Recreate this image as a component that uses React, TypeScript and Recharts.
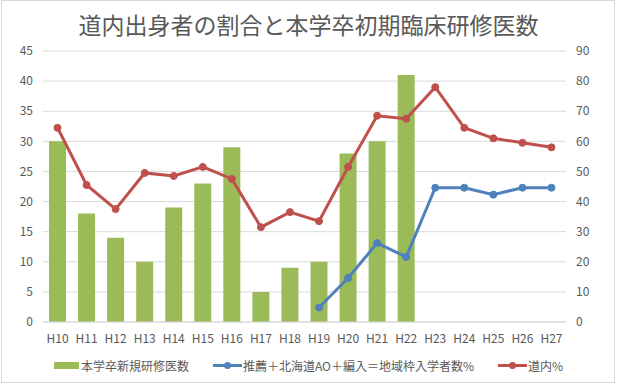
import React from 'react';
import { ComposedChart, Bar, Line, XAxis, YAxis, CartesianGrid, Legend } from 'recharts';

const categories = ['H10', 'H11', 'H12', 'H13', 'H14', 'H15', 'H16', 'H17', 'H18', 'H19', 'H20', 'H21', 'H22', 'H23', 'H24', 'H25', 'H26', 'H27'];
const residents = [30, 18, 14, 10, 19, 23, 29, 5, 9, 10, 28, 30, 41, null, null, null, null, null];
const regionalQuota = [null, null, null, null, null, null, null, null, null, 4.8, 14.6, 26.2, 21.6, 44.6, 44.6, 42.3, 44.6, 44.6];
const hokkaido = [64.5, 45.5, 37.5, 49.5, 48.5, 51.5, 47.5, 31.5, 36.5, 33.5, 51.5, 68.5, 67.5, 78, 64.5, 61, 59.5, 58];

const leftTicks = [0, 5, 10, 15, 20, 25, 30, 35, 40, 45];
const rightTicks = [0, 10, 20, 30, 40, 50, 60, 70, 80, 90];

const SERIES = [
  { key: 'residents', name: '本学卒新規研修医数', color: '#9bbb59', type: 'bar' },
  { key: 'regional', name: '推薦＋北海道AO＋編入＝地域枠入学者数%', color: '#4f81bd', type: 'line' },
  { key: 'hokkaido', name: '道内%', color: '#c0504d', type: 'line' },
];

const data = categories.map((c, i) => ({
  name: c,
  residents: residents[i],
  regional: regionalQuota[i],
  hokkaido: hokkaido[i],
}));

const FONT = '"Noto Sans CJK JP", "Noto Sans", sans-serif';
const TEXT = '#595959';
const GRID = '#d9d9d9';

const LegendContent = () => (
  <div style={{ display: 'flex', justifyContent: 'center', alignItems: 'center', height: 30, fontFamily: FONT, fontSize: 12, color: TEXT }}>
    {SERIES.map((s, i) => (
      <div key={s.key} style={{ display: 'flex', alignItems: 'center', marginLeft: i === 0 ? 0 : 24 }}>
        {s.type === 'bar' ? (
          <span style={{ display: 'inline-block', width: 25, height: 7, background: s.color, marginRight: 2 }} />
        ) : (
          <svg width={29} height={9} style={{ marginRight: 1 }}>
            <line x1={0} y1={4.5} x2={29} y2={4.5} stroke={s.color} strokeWidth={3} />
            <circle cx={14.5} cy={4.5} r={3.5} fill={s.color} />
          </svg>
        )}
        <span>{s.name}</span>
      </div>
    ))}
  </div>
);

const App = () => {
  return (
    <div style={{ position: 'absolute', left: 0, top: 0, width: 617, height: 386, background: '#fff', fontFamily: FONT }}>
      <div style={{ position: 'absolute', left: 1, top: 0, width: 614, height: 383, border: `1px solid ${GRID}`, boxSizing: 'border-box' }} />
      <div style={{ position: 'absolute', left: 0, top: 11, width: 617, textAlign: 'center', fontSize: 23, lineHeight: '26px', color: TEXT }}>
        道内出身者の割合と本学卒初期臨床研修医数
      </div>
      <ComposedChart width={617} height={386} data={data} margin={{ top: 51, right: 0, bottom: 0, left: 0 }}>
        <CartesianGrid yAxisId="left" vertical={false} stroke={GRID} />
        <XAxis
          dataKey="name"
          height={28}
          axisLine={{ stroke: GRID }}
          tickLine={false}
          tickMargin={6}
          tick={{ fontSize: 12, fill: TEXT }}
          interval={0}
        />
        <YAxis
          yAxisId="left"
          orientation="left"
          width={43}
          domain={[0, 45]}
          ticks={leftTicks}
          axisLine={false}
          tickLine={false}
          tickMargin={4}
          tick={{ fontSize: 12, fill: TEXT }}
        />
        <YAxis
          yAxisId="right"
          orientation="right"
          width={51}
          domain={[0, 90]}
          ticks={rightTicks}
          axisLine={false}
          tickLine={false}
          tickMargin={4}
          tick={{ fontSize: 12, fill: TEXT }}
        />
        <Bar yAxisId="left" dataKey="residents" name={SERIES[0].name} fill={SERIES[0].color} barSize={17} isAnimationActive={false} />
        <Line
          yAxisId="right"
          dataKey="regional"
          name={SERIES[1].name}
          stroke={SERIES[1].color}
          strokeWidth={3}
          dot={{ r: 3.5, fill: SERIES[1].color, stroke: SERIES[1].color, strokeWidth: 1 }}
          activeDot={false}
          isAnimationActive={false}
        />
        <Line
          yAxisId="right"
          dataKey="hokkaido"
          name={SERIES[2].name}
          stroke={SERIES[2].color}
          strokeWidth={3}
          dot={{ r: 3.5, fill: SERIES[2].color, stroke: SERIES[2].color, strokeWidth: 1 }}
          activeDot={false}
          isAnimationActive={false}
        />
        <Legend verticalAlign="bottom" height={36} content={LegendContent} />
      </ComposedChart>
    </div>
  );
};

export default App;
